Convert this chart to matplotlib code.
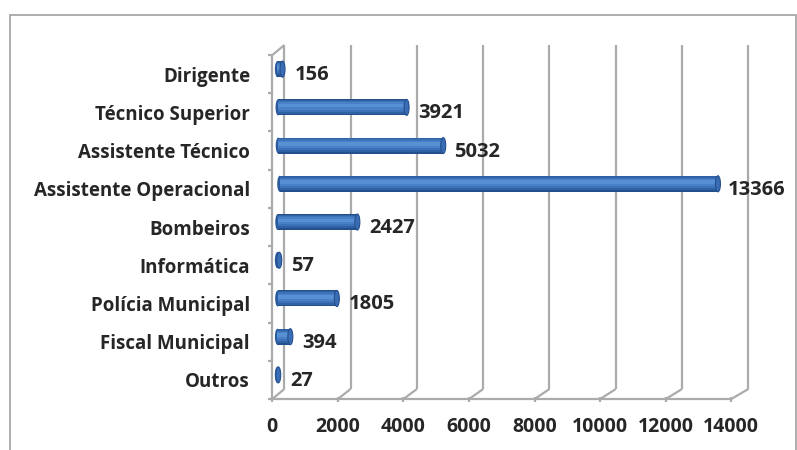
import matplotlib
matplotlib.use("Agg")
import matplotlib.pyplot as plt
from matplotlib.patches import Ellipse, Rectangle
from matplotlib.transforms import ScaledTranslation

# Data
categories = ['Outros', 'Fiscal Municipal', 'Polícia Municipal', 'Informática', 'Bombeiros',
              'Assistente Operacional', 'Assistente Técnico', 'Técnico Superior', 'Dirigente']
values = [27, 394, 1805, 57, 2427, 13366, 5032, 3921, 156]
xticks = [0, 2000, 4000, 6000, 8000, 10000, 12000, 14000]

plt.rcParams['font.family'] = ['Open Sans', 'DejaVu Sans']
txt_col = '#262626'

fig = plt.figure(figsize=(7.97, 4.5), dpi=100)
# chart border
fig.add_artist(Rectangle((10 / 797, -0.1), 786 / 797, 1.1 - 15 / 450, transform=fig.transFigure,
                         fill=False, edgecolor='#A0A0A0', lw=1.2))

ax = fig.add_axes([0.3417, 0.1133, 0.5759, 0.7644])
ax.set_xlim(0, 14000)
ax.set_ylim(-0.5, len(categories) - 0.5)
for s in ax.spines.values():
    s.set_visible(False)
ax.set_facecolor('none')


def shift(dx, dy):
    # offset in pixels (dpi = 100)
    return ax.transData + ScaledTranslation(dx / 100, dy / 100, fig.dpi_scale_trans)


def depth(v):
    # perspective: back wall offset grows a bit to the right
    return 12 + 5 * v / 14000, 10


grid_kw = dict(color='#ABABAB', lw=1.6, solid_capstyle='butt', zorder=1, clip_on=False)
ybot, ytop = -0.5, len(categories) - 0.5

# floor front edge
ax.plot([0, 14000], [ybot, ybot], **grid_kw)
for v in xticks:
    dx, dy = depth(v)
    ax.plot([v, v], [ybot, ytop], transform=shift(dx, dy), **grid_kw)
    x0, y0 = ax.transData.transform((v, ybot))
    # diagonal on the floor
    ax.plot([x0, x0 + dx], [y0, y0 + dy], transform=None, **grid_kw)
    # small tick on front edge
    ax.plot([x0, x0], [y0 - 3, y0 + 2], transform=None, **grid_kw)

# left wall front edge and top diagonal
dx0, dy0 = depth(0)
ax.plot([0, 0], [ybot, ytop], **grid_kw)
xt, yt = ax.transData.transform((0, ytop))
ax.plot([xt, xt + dx0], [yt, yt + dy0], transform=None, **grid_kw)
for k in range(len(categories) + 1):
    xb, yb = ax.transData.transform((0, k - 0.5))
    ax.plot([xb - 4, xb], [yb, yb], transform=None, **grid_kw)

# cylinder bars at mid depth
px_per_x = ax.get_position().width * 797 / 14000
bar_h = 0.42
layers = [(1.00, 0.00, '#234F8C'), (0.84, 0.015, '#2F61A5'), (0.64, 0.025, '#3D72B9'),
          (0.44, 0.035, '#4A80C8'), (0.22, 0.045, '#5890D4')]
for i, v in enumerate(values):
    dx, dy = depth(v)
    tr = shift(dx / 2 - 1, dy / 2)
    cap_w = 5 / px_per_x
    ax.add_patch(Ellipse((0, i), cap_w, bar_h, transform=tr, facecolor='#2B5A9C',
                         edgecolor='none', zorder=3, clip_on=False))
    for frac, off, col in layers:
        ax.barh(i + off, v, height=bar_h * frac, color=col, transform=tr, zorder=3, lw=0)
    ax.add_patch(Ellipse((v, i), cap_w, bar_h, transform=tr, facecolor='#3A6DB4',
                         edgecolor='#24508E', lw=0.8, zorder=4, clip_on=False))
    ax.text(v, i, str(v), transform=shift(17, -1), ha='left', va='center',
            fontsize=14.5, fontweight='bold', color=txt_col, zorder=5)

ax.set_yticks(range(len(categories)))
ax.set_yticklabels(categories, fontsize=13.5, fontweight='bold', color=txt_col)
ax.set_xticks(xticks)
ax.set_xticklabels([str(t) for t in xticks], fontsize=14, fontweight='bold', color=txt_col)
ax.tick_params(axis='y', length=0, pad=16)
ax.tick_params(axis='x', length=0, pad=13)

fig.savefig('out.png', dpi=100)
